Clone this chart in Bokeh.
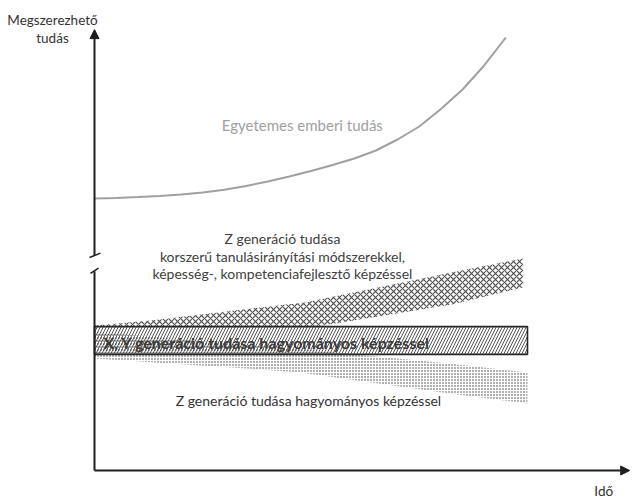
from bokeh.plotting import figure
from bokeh.models import Range1d, Arrow, NormalHead
from bokeh.core.properties import value
from bokeh.embed import file_html
from bokeh.resources import INLINE

# ---------------- data (time units, knowledge units) ----------------
# Egyetemes emberi tudás (universal human knowledge) curve
curve_t = [0, 0.5, 1, 1.5, 2, 2.5, 3, 3.5, 4, 4.5, 5, 5.5, 6, 6.5, 7, 7.5,
           8, 8.5, 9, 9.5]
curve_y = [61.82, 61.95, 62.16, 62.41, 62.73, 63.18, 63.80, 64.66, 65.68,
           66.82, 68.07, 69.43, 70.91, 72.73, 75.23, 78.18, 82.16, 86.59,
           92.05, 98.41]

# Z generation, modern methods (cross-hatched wedge)
zmod_t = [0, 1.3, 4.85, 8.25, 9.9]
zmod_top = [32.95, 34.1, 38.2, 45.0, 48.2]
zmod_bot = [32.05, 32.05, 32.3, 37.7, 41.6]

# X, Y generation, traditional (rectangle)
xy_t = [0, 10]
xy_lo, xy_hi = 26.4, 32.7

# Z generation, traditional (dotted wedge)
ztrad_t = [0, 3.5, 4.75, 8.2, 10]
ztrad_top = [31.5, 28.6, 27.6, 24.3, 22.27]
ztrad_bot = [25.45, 23.18, 22.27, 17.5, 15.23]

# axis break on the knowledge axis
break_lo, break_hi = 45.3, 48.9
y_axis_top = 100.2
x_axis_end = 12.36

labels_y = ["Megszerezhető", "tudás"]
label_x = "Idő"
label_curve = "Egyetemes emberi tudás"
label_zmod = ["Z generáció tudása",
              "korszerű tanulásirányítási módszerekkel,",
              "képesség-, kompetenciafejlesztő képzéssel"]
label_xy = "X, Y generáció tudása hagyományos képzéssel"
label_ztrad = "Z generáció tudása hagyományos képzéssel"

# ---------------- layout ----------------
W, H = 632, 503
PX_T = 43.3      # px per time unit
PX_Y = 4.4       # px per knowledge unit
ORIG_X = 94      # canvas px of t=0
ORIG_Y = 470     # canvas px of y=0

p = figure(width=W, height=H, output_backend="svg", toolbar_location=None,
           x_range=Range1d(-ORIG_X / PX_T, (W - ORIG_X) / PX_T),
           y_range=Range1d(-(H - ORIG_Y) / PX_Y, ORIG_Y / PX_Y),
           min_border=0, outline_line_color=None)
p.axis.visible = False
p.grid.visible = False
p.background_fill_color = "white"
p.border_fill_color = "white"

FONT = value("Lato")

# universal knowledge curve
p.line(curve_t, curve_y, line_color="#a0a0a0", line_width=2)

# Z modern wedge (crosshatch)
p.patch(zmod_t + zmod_t[::-1], zmod_top + zmod_bot[::-1],
        fill_color=None, line_color=None,
        hatch_pattern="diagonal_cross", hatch_color="#505050",
        hatch_scale=6, hatch_weight=1.2)

# X,Y rectangle: white fill + diagonal lines
rect_x = [xy_t[0], xy_t[1], xy_t[1], xy_t[0]]
rect_y = [xy_lo, xy_lo, xy_hi, xy_hi]
p.patch(rect_x, rect_y, fill_color="white", line_color=None,
        hatch_pattern="right_diagonal_line", hatch_color="#555555",
        hatch_scale=6, hatch_weight=1)

# Z traditional wedge (dots)
p.patch(ztrad_t + ztrad_t[::-1], ztrad_top + ztrad_bot[::-1],
        fill_color=None, line_color=None,
        hatch_pattern="dot", hatch_color="#3a3a3a",
        hatch_scale=3, hatch_weight=1.4)

# rectangle outline
p.patch(rect_x, rect_y, fill_color=None, line_color="#262626", line_width=1.6)

# texts
p.text([4.8], [78.6], text=[label_curve], text_color="#a0a0a0",
       text_font=FONT, text_font_size="15px",
       text_align="center", text_baseline="middle")
p.text([4.34] * 3, [52.7, 48.6, 44.8], text=label_zmod, text_color="#404040",
       text_font=FONT, text_font_size="14px",
       text_align="center", text_baseline="middle")
p.text([0.21], [29.1], text=[label_xy], text_color="#3a3a3a",
       text_font=FONT, text_font_size="16px", text_font_style="bold",
       text_align="left", text_baseline="middle")
p.text([4.94], [15.9], text=[label_ztrad], text_color="#333333",
       text_font=FONT, text_font_size="14px",
       text_align="center", text_baseline="middle")
p.text([-0.97] * 2, [102.5, 98.2], text=labels_y, text_color="#333333",
       text_font=FONT, text_font_size="13.5px",
       text_align="center", text_baseline="middle")
p.text([11.76], [-4.75], text=[label_x], text_color="#333333",
       text_font=FONT, text_font_size="13.5px",
       text_align="center", text_baseline="middle")

# axes
AX = "#1e1e1e"
p.segment([0], [0], [0], [break_lo], line_color=AX, line_width=2)
p.add_layout(Arrow(end=NormalHead(size=9, fill_color=AX, line_color=AX),
                   x_start=0, y_start=break_hi, x_end=0, y_end=y_axis_top,
                   line_color=AX, line_width=2))
p.add_layout(Arrow(end=NormalHead(size=9, fill_color=AX, line_color=AX),
                   x_start=0, y_start=0, x_end=x_axis_end, y_end=0,
                   line_color=AX, line_width=2))
# break marks
p.segment([-5 / PX_T, -4 / PX_T], [break_hi - 0.5, break_lo - 0.5],
          [6 / PX_T, 4 / PX_T], [break_hi + 0.5, break_lo + 0.7],
          line_color=AX, line_width=1.5)

open("out.html", "w").write(file_html(p, INLINE))
